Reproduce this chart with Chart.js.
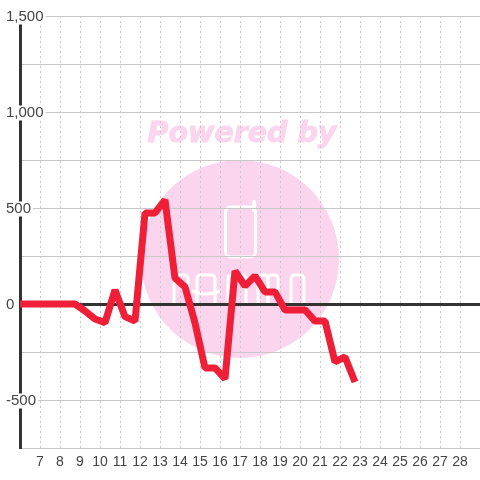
<!DOCTYPE html>
<html>
<head>
<meta charset="utf-8">
<style>
html, body { margin: 0; padding: 0; background: #fff; }
canvas { display: block; }
</style>
<script src="https://cdn.jsdelivr.net/npm/chart.js@4/dist/chart.umd.js"></script>
</head>
<body>
<canvas id="chart" width="480" height="480"></canvas>
<script>
const days = [5.75, 6.25, 6.75, 7.25, 7.75, 8.25, 8.75, 9.25, 9.75, 10.25, 10.75, 11.25, 11.75, 12.25, 12.75, 13.25, 13.75, 14.25, 14.75, 15.25, 15.75, 16.25, 16.75, 17.25, 17.75, 18.25, 18.75, 19.25, 19.75, 20.25, 20.75, 21.25, 21.75, 22.25, 22.75];
const values = [0, 0, 0, 0, 0, 0, 0, -36, -78, -97, 73, -66, -89, 474, 474, 542, 135, 89, -99, -333, -333, -390, 172, 94, 146, 63, 63, -31, -31, -31, -89, -89, -302, -276, -406];
const hiddenDays = [6, 29];

// background logo, sits under the grid
const watermark = {
    id: "watermark",
    beforeDraw(chart) {
        const ctx = chart.ctx;
        ctx.save();
        ctx.fillStyle = "#fbd5ee";
        ctx.beginPath();
        ctx.arc(240, 259, 99, 0, Math.PI * 2);
        ctx.fill();
        ctx.font = "italic bold 28.5px 'DejaVu Sans'";
        ctx.textAlign = "center";
        ctx.textBaseline = "middle";
        ctx.strokeStyle = "#fbd5ee";
        ctx.lineWidth = 1;
        ctx.fillText("Powered by", 242, 135);
        ctx.strokeText("Powered by", 242, 135);

        ctx.strokeStyle = "#fff";
        ctx.lineWidth = 3;
        ctx.beginPath();
        ctx.roundRect(225.5, 207, 30, 50, 5);
        ctx.stroke();
        ctx.lineCap = "round";
        ctx.lineWidth = 4;
        ctx.beginPath();
        ctx.moveTo(254, 202);
        ctx.lineTo(254, 210);
        ctx.stroke();

        ctx.lineCap = "butt";
        ctx.lineWidth = 3;
        const arch = (l, r) => {
            ctx.beginPath();
            ctx.moveTo(l, 304);
            ctx.lineTo(l, 279);
            ctx.quadraticCurveTo(l, 275, l + 4, 275);
            ctx.lineTo(r - 4, 275);
            ctx.quadraticCurveTo(r, 275, r, 279);
            ctx.lineTo(r, 304);
            ctx.stroke();
        };
        arch(174, 188);
        arch(197, 215);
        arch(228, 246);
        arch(258, 268);
        arch(268, 278);
        arch(291, 304);
        ctx.beginPath();
        ctx.moveTo(192, 291);
        ctx.quadraticCurveTo(206, 297, 220, 291);
        ctx.moveTo(291, 304);
        ctx.lineTo(304, 304);
        ctx.stroke();
        ctx.restore();
    }
};

new Chart(document.getElementById("chart"), {
    type: "line",
    data: {
        datasets: [{
            data: days.map((d, i) => ({ x: d, y: values[i] })),
            borderColor: "#f01f38",
            borderWidth: 7,
            borderJoinStyle: "bevel",
            pointRadius: 0,
            tension: 0
        }]
    },
    options: {
        responsive: false,
        animation: false,
        layout: { padding: { top: 16 } },
        plugins: { legend: { display: false }, tooltip: { enabled: false } },
        scales: {
            x: {
                type: "linear",
                min: 6,
                max: 29,
                afterFit: (scale) => { scale.height = 32; scale.paddingRight = 0; scale.paddingLeft = 0; },
                border: { display: false, dash: [2, 3] },
                grid: { color: (c) => c.tick.value === 6 ? "transparent" : "#c8c8c8", lineWidth: 1, drawTicks: false },
                ticks: {
                    stepSize: 1,
                    autoSkip: false,
                    maxRotation: 0,
                    color: "#444",
                    padding: 6,
                    font: { family: "'Liberation Sans'", size: 14 },
                    callback: (v) => hiddenDays.includes(v) ? "" : String(v)
                }
            },
            y: {
                min: -750,
                max: 1500,
                position: "left",
                afterFit: (scale) => { scale.width = 20; },
                border: { display: true, color: "#333", width: 3 },
                grid: {
                    drawTicks: false,
                    color: (c) => c.tick.value === 0 ? "#333" : "#c8c8c8",
                    lineWidth: (c) => c.tick.value === 0 ? 3 : 1
                },
                ticks: {
                    stepSize: 250,
                    color: "#444",
                    mirror: true,
                    padding: -14,
                    labelOffset: 1,
                    z: 2,
                    showLabelBackdrop: true,
                    backdropColor: "#fff",
                    backdropPadding: { top: 0, bottom: 0, left: 2, right: 2 },
                    font: { family: "'Liberation Sans'", size: 15, lineHeight: 1 },
                    callback: (v) => v % 500 === 0 ? v.toLocaleString("en-US") : ""
                }
            }
        }
    },
    plugins: [watermark]
});
</script>
</body>
</html>
